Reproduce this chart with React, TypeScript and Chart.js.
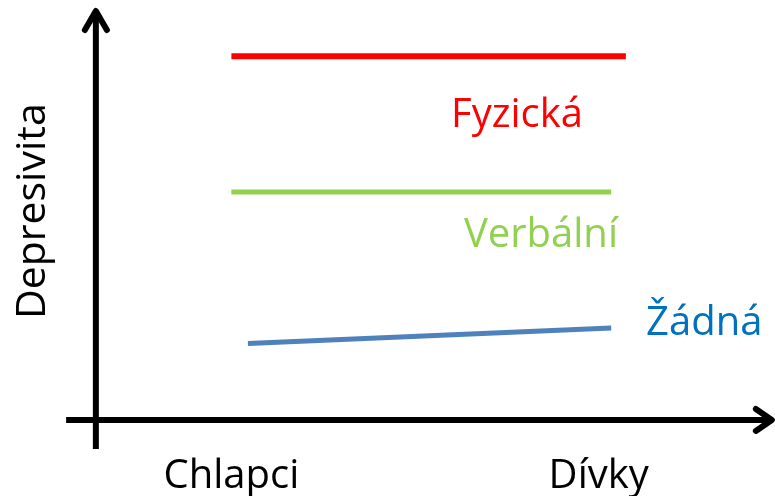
import React, { useEffect, useRef } from "react";
import { Chart, registerables } from "chart.js";

Chart.register(...registerables);

// Categories on the x axis (positions 1 and 2 on a linear scale)
const categories = ["Chlapci", "Dívky"];
const categoryX = [1, 2];

// Series (schematic levels of "Depresivita")
const seriesNames = ["Fyzická", "Verbální", "Žádná"];
const fyzickaX = [1.0, 2.074];
const fyzickaY = [8.94, 8.94];
const verbalniX = [1.0, 2.034];
const verbalniY = [5.6, 5.6];
const zadnaX = [1.045, 2.034];
const zadnaY = [1.878, 2.259];

// Series label anchors (in data units)
const labelX = [1.598, 1.633, 2.129];
const labelY = [7.2, 4.25, 2.087];

const yAxisTitle = "Depresivita";

const lineColors = ["#FF0000", "#92D050", "#4F81BD"];
const textColors = ["#FF0000", "#92D050", "#0070C0"];

// Scale frame
const X_MIN = 0.37;
const X_MAX = 2.48;
const Y_MIN = -1.87;
const Y_MAX = 10.32;
const AXIS_X = 0.631; // x value where the vertical axis stands
const AXIS_Y = 0; // y value where the horizontal axis stands
const V_AXIS_FROM = -0.715;
const V_AXIS_TO = 10.0;
const H_AXIS_FROM = 0.55;
const H_AXIS_TO = 2.466;
const CAT_LABEL_Y = -1.67;
const TITLE_X = 0.4925;
const TITLE_Y = 5.13;

const FONT = '"Open Sans", "Noto Sans", sans-serif';

const toPts = (xs: number[], ys: number[]) => xs.map((x, i) => ({ x, y: ys[i] }));

const schematicPlugin = {
  id: "schematic",
  afterDatasetsDraw(chart: any) {
    const ctx = chart.ctx as CanvasRenderingContext2D;
    const xs = chart.scales.x;
    const ys = chart.scales.y;
    const px = (v: number) => xs.getPixelForValue(v);
    const py = (v: number) => ys.getPixelForValue(v);

    ctx.save();
    ctx.strokeStyle = "#000000";
    ctx.lineWidth = 6;
    ctx.lineCap = "butt";

    // vertical axis
    const vx = px(AXIS_X);
    ctx.beginPath();
    ctx.moveTo(vx, py(V_AXIS_FROM));
    ctx.lineTo(vx, py(V_AXIS_TO));
    ctx.stroke();
    // horizontal axis
    const hy = py(AXIS_Y);
    ctx.beginPath();
    ctx.moveTo(px(H_AXIS_FROM), hy);
    ctx.lineTo(px(H_AXIS_TO), hy);
    ctx.stroke();

    // arrowheads
    ctx.lineCap = "round";
    ctx.lineJoin = "round";
    const vt = py(V_AXIS_TO) - 2;
    ctx.beginPath();
    ctx.moveTo(vx - 11, vt + 19);
    ctx.lineTo(vx, vt);
    ctx.lineTo(vx + 11, vt + 19);
    ctx.stroke();
    const ht = px(H_AXIS_TO) + 2;
    ctx.beginPath();
    ctx.moveTo(ht - 16, hy - 11);
    ctx.lineTo(ht, hy);
    ctx.lineTo(ht - 16, hy + 11);
    ctx.stroke();

    // category labels
    ctx.fillStyle = "#000000";
    ctx.font = `40px ${FONT}`;
    ctx.textAlign = "center";
    ctx.textBaseline = "alphabetic";
    categories.forEach((c, i) => {
      ctx.fillText(c, px(categoryX[i]), py(CAT_LABEL_Y));
    });

    // y axis title
    ctx.save();
    ctx.translate(px(TITLE_X), py(TITLE_Y));
    ctx.rotate(-Math.PI / 2);
    ctx.font = `41px ${FONT}`;
    ctx.textAlign = "center";
    ctx.fillText(yAxisTitle, 0, 0);
    ctx.restore();

    // series labels
    ctx.textAlign = "left";
    ctx.font = `40px ${FONT}`;
    seriesNames.forEach((n, i) => {
      ctx.fillStyle = textColors[i];
      ctx.fillText(n, px(labelX[i]), py(labelY[i]));
    });
    ctx.restore();
  },
};

export default function App() {
  const ref = useRef<HTMLCanvasElement | null>(null);

  useEffect(() => {
    if (!ref.current) return;
    const chart = new Chart(ref.current, {
      type: "line",
      data: {
        datasets: [
          { label: seriesNames[0], data: toPts(fyzickaX, fyzickaY), borderColor: lineColors[0], borderWidth: 6 },
          { label: seriesNames[1], data: toPts(verbalniX, verbalniY), borderColor: lineColors[1], borderWidth: 5 },
          { label: seriesNames[2], data: toPts(zadnaX, zadnaY), borderColor: lineColors[2], borderWidth: 5 },
        ].map((d) => ({ ...d, pointRadius: 0, tension: 0, fill: false, borderCapStyle: "butt" as const })),
      },
      options: {
        animation: false,
        responsive: false,
        devicePixelRatio: 1,
        layout: { padding: 0 },
        plugins: { legend: { display: false }, tooltip: { enabled: false } },
        events: [],
        scales: {
          x: { type: "linear", min: X_MIN, max: X_MAX, display: false },
          y: { type: "linear", min: Y_MIN, max: Y_MAX, display: false },
        },
      },
      plugins: [schematicPlugin],
    });
    return () => chart.destroy();
  }, []);

  return (
    <div style={{ position: "fixed", left: 0, top: 0, width: 775, height: 496, background: "#ffffff" }}>
      <canvas ref={ref} width={775} height={496} style={{ display: "block", width: 775, height: 496 }} />
    </div>
  );
}
